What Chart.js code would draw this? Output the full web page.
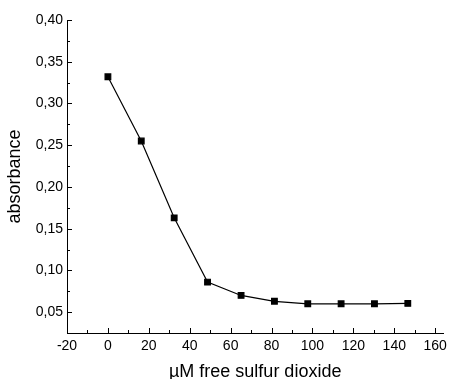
<!DOCTYPE html>
<html>
<head>
<meta charset="utf-8">
<script src="https://cdn.jsdelivr.net/npm/chart.js@4.4.0/dist/chart.umd.min.js"></script>
<style>
  html, body { margin: 0; padding: 0; background: #fff; }
  #wrap { width: 452px; height: 379px; }
</style>
</head>
<body>
<div id="wrap"><canvas id="grafico"></canvas></div>
<script>
// datos
const concentraciones = [0, 16.3, 32.4, 48.7, 65.1, 81.4, 97.7, 114, 130.3, 146.6]
const absorbancias = [0.332, 0.255, 0.163, 0.086, 0.070, 0.063, 0.060, 0.060, 0.060, 0.0605]
const ticksX = [-20, 0, 20, 40, 60, 80, 100, 120, 140, 160]
const ticksY = [0.05, 0.10, 0.15, 0.20, 0.25, 0.30, 0.35, 0.40]

const fuente = "'Liberation Sans', Arial, sans-serif"

// marcas hacia adentro (mayores y menores)
const marcasInternas = {
  id: "marcasInternas",
  afterDraw: (chart) => {
    const ctx = chart.ctx
    const x = chart.scales.x
    const y = chart.scales.y
    ctx.save()
    ctx.strokeStyle = "#000"
    ctx.lineWidth = 1
    ctx.beginPath()
    for (let i = 0; i < ticksX.length; i++) {
      const px = Math.round(x.getPixelForValue(ticksX[i])) + 0.5
      ctx.moveTo(px, y.bottom); ctx.lineTo(px, y.bottom - 5)
      const pm = Math.round(x.getPixelForValue(ticksX[i] + 10)) + 0.5
      if (pm < x.right) { ctx.moveTo(pm, y.bottom); ctx.lineTo(pm, y.bottom - 3) }
    }
    for (let i = 0; i < ticksY.length; i++) {
      const py = Math.round(y.getPixelForValue(ticksY[i])) + 0.5
      ctx.moveTo(x.left, py); ctx.lineTo(x.left + 5, py)
      const pm = Math.round(y.getPixelForValue(ticksY[i] - 0.025)) + 0.5
      ctx.moveTo(x.left, pm); ctx.lineTo(x.left + 3, pm)
    }
    ctx.stroke()
    ctx.restore()
  }
}

const config = {
  type: "line",
  data: {
    datasets: [{
      data: concentraciones.map((c, i) => ({ x: c, y: absorbancias[i] })),
      borderColor: "#000",
      borderWidth: 1.2,
      backgroundColor: "#000",
      pointStyle: "rect",
      pointRadius: 4,
      tension: 0
    }]
  },
  options: {
    responsive: false,
    animation: false,
    layout: { padding: { top: 20, right: 0, left: 0, bottom: -4 } },
    plugins: { legend: { display: false }, tooltip: { enabled: false } },
    scales: {
      x: {
        type: "linear",
        min: -20,
        max: 164,
        afterBuildTicks: (s) => { s.ticks = ticksX.map(v => ({ value: v })) },
        afterFit: (s) => { s.height = 50 },
        grid: { display: false, drawTicks: false },
        border: { display: true, color: "#000", width: 1 },
        ticks: { color: "#000", font: { family: fuente, size: 14 }, padding: 5, maxRotation: 0 },
        title: { display: true, text: "µM free sulfur dioxide", color: "#000", font: { family: fuente, size: 18 }, padding: { top: 0, bottom: 0 } }
      },
      y: {
        min: 0.025,
        max: 0.40,
        afterBuildTicks: (s) => { s.ticks = ticksY.map(v => ({ value: v })) },
        afterFit: (s) => { s.width = 67 },
        grid: { display: false, drawTicks: false },
        border: { display: true, color: "#000", width: 1 },
        ticks: {
          color: "#000",
          font: { family: fuente, size: 14 },
          padding: 4,
          callback: (v) => v.toFixed(2).replace(".", ",")
        },
        title: { display: true, text: "absorbance", color: "#000", font: { family: fuente, size: 18 }, padding: { bottom: 4 } }
      }
    }
  },
  plugins: [marcasInternas]
}

const canvas = document.getElementById("grafico")
canvas.width = 452
canvas.height = 379
new Chart(canvas, config)
</script>
</body>
</html>
